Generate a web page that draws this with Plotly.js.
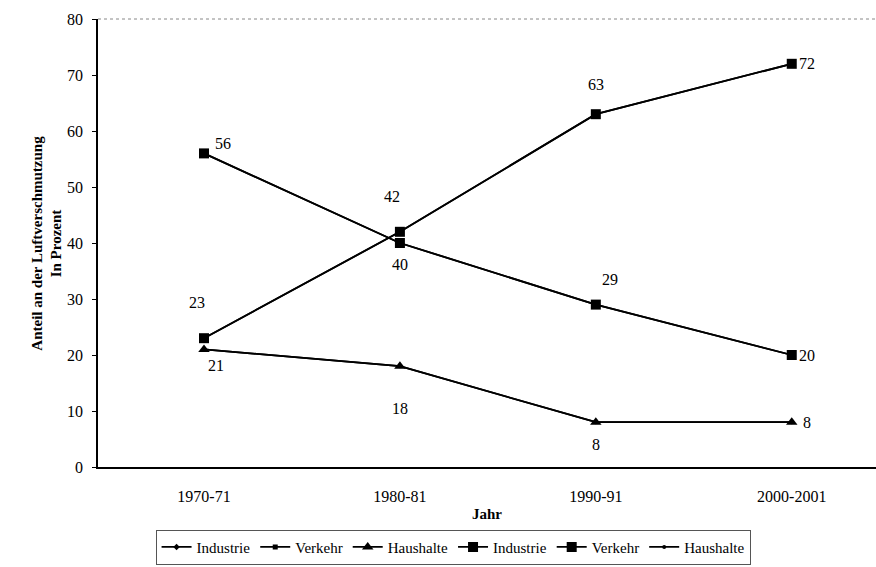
<!DOCTYPE html>
<html><head><meta charset="utf-8">
<script src="https://cdn.plot.ly/plotly-3.0.1.min.js"></script>
<style>html,body{margin:0;padding:0;background:#fff;}#chart{width:876px;height:567px;}</style>
</head><body><div id="chart"></div>
<script>
const years = ['1970-71','1980-81','1990-91','2000-2001'];
const industrie = [56, 40, 29, 20];
const verkehr = [23, 42, 63, 72];
const haushalte = [21, 18, 8, 8];
const yTicks = [0,10,20,30,40,50,60,70,80];

const F = "'Liberation Serif', 'Times New Roman', serif";
const line = {color:'#000', width:1.8};

const traces = [
  {x:years, y:industrie, name:'Industrie', mode:'lines+markers', line:line, marker:{symbol:'diamond', size:5, color:'#000'}, legendrank:1},
  {x:years, y:verkehr, name:'Verkehr', mode:'lines+markers', line:line, marker:{symbol:'square', size:5, color:'#000'}, legendrank:2},
  {x:years, y:haushalte, name:'Haushalte', mode:'lines+markers', line:line, marker:{symbol:'triangle-up', size:10, color:'#000'}, legendrank:3},
  {x:years, y:industrie, name:'Industrie', mode:'lines+markers', line:line, marker:{symbol:'square', size:10, color:'#000'}, legendrank:4},
  {x:years, y:verkehr, name:'Verkehr', mode:'lines+markers', line:line, marker:{symbol:'square', size:10, color:'#000'}, legendrank:5},
  {x:years, y:haushalte, name:'Haushalte', mode:'lines+markers', line:line, marker:{symbol:'circle', size:4, color:'#000'}, legendrank:6}
];
const order = [0,1,5,3,4,2];
const data = order.map(i => traces[i]);

const offInd = [[19,10],[0,-21],[14,25],[15,0]];
const offVer = [[-7,36],[-8,35],[0,30],[15,0]];
const offHau = [[12,-16],[0,-42],[0,-22],[15,0]];
const annotations = [];
function addLabels(vals, offs){
  vals.forEach((v,i)=>{
    annotations.push({x:years[i], y:v, xref:'x', yref:'y', text:String(v), showarrow:false,
      xshift:offs[i][0], yshift:offs[i][1], font:{family:F, size:16, color:'#000'}});
  });
}
addLabels(industrie, offInd);
addLabels(verkehr, offVer);
addLabels(haushalte, offHau);
annotations.push({x:0.5, y:-0.105, xref:'paper', yref:'paper', xanchor:'center', yanchor:'middle',
  text:'<b>Jahr</b>', showarrow:false, font:{family:F, size:15, color:'#000'}});
annotations.push({x:-0.066, y:0.5, xref:'paper', yref:'paper', xanchor:'center', yanchor:'middle',
  text:'<b>Anteil an der Luftverschmutzung<br>In Prozent</b>', showarrow:false,
  textangle:-90, font:{family:F, size:15, color:'#000'}});

const layout = {
  width:876, height:567,
  margin:{l:98, r:0, t:19, b:100},
  paper_bgcolor:'#fff', plot_bgcolor:'#fff',
  font:{family:F, size:16, color:'#000'},
  showlegend:true,
  legend:{orientation:'h', x:0.074, y:-0.14, xanchor:'left', yanchor:'top',
    font:{family:F, size:15, color:'#000'}, bordercolor:'#555', borderwidth:1,
    itemwidth:30, tracegroupgap:0, traceorder:'normal'},
  xaxis:{type:'category', range:[-0.541, 3.43], showgrid:false, zeroline:false,
    showline:true, linecolor:'#000', linewidth:1.5, ticks:'', ticklabelstandoff:14,
    tickfont:{family:F, size:16, color:'#000'}},
  yaxis:{range:[0,80], tickvals:yTicks, showgrid:false, zeroline:false,
    showline:true, linecolor:'#000', linewidth:1.5, ticks:'outside', ticklen:4, tickcolor:'#000',
    ticklabelstandoff:6, tickfont:{family:F, size:16, color:'#000'}},
  shapes:[{type:'line', xref:'paper', yref:'paper', x0:0, x1:1, y0:1, y1:1,
    line:{color:'#888', width:1, dash:'dot'}}],
  annotations:annotations
};
Plotly.newPlot('chart', data, layout, {displayModeBar:false});
</script></body></html>
